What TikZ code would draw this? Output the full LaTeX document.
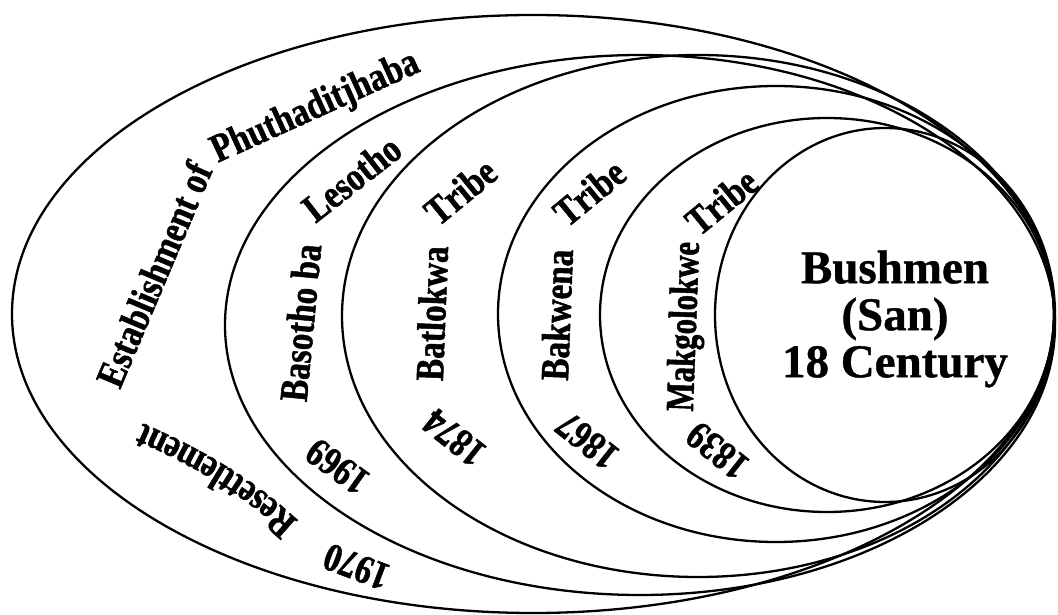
\documentclass[tikz,border=0pt]{standalone}
\usepackage{fontspec}
\setmainfont{Liberation Serif}
\newfontfamily\lblfamily{Liberation Serif}[FakeStretch=0.83,FakeBold=1.2]
\newfontfamily\lblnarrowfamily{Liberation Serif}[FakeStretch=0.77,FakeBold=1.2]
\newfontfamily\corefamily{Liberation Serif}[FakeBold=0.8]
\usetikzlibrary{decorations.text}
\newcommand\lblfont{\lblfamily\bfseries\fontsize{40}{40}\selectfont}
\newcommand\lblnarrowfont{\lblnarrowfamily\bfseries\fontsize{40}{40}\selectfont}
\tikzset{
  ring/.style={draw=black, line width=2.3pt},
  curvelabel/.style={decorate, decoration={text along path, text={|\lblfont|#1}, text align=center}},
  curvelabelN/.style={decorate, decoration={text along path, text={|\lblnarrowfont|#1}, text align=center}},
  curvelabelL/.style={decorate, decoration={text along path, text={|\lblfont|#1}, text align=left}},
  corelabel/.style={font=\corefamily\bfseries\fontsize{47}{47}\selectfont, align=center}
}
\begin{document}
\begin{tikzpicture}[x=1pt,y=1pt]
\useasboundingbox[fill=white] (0,0) rectangle (1058,614);
% rings
\draw[ring] (533,300) ellipse [x radius=521, y radius=299];
\draw[ring] (640,289) ellipse [x radius=415, y radius=270];
\draw[ring] (698,298) ellipse [x radius=356, y radius=261];
\draw[ring] (776,300) ellipse [x radius=278, y radius=228];
\draw[ring] (827,299) ellipse [x radius=227, y radius=197];
\draw[ring] (885,299) ellipse [x radius=170, y radius=187];
% ring 1
\path[curvelabelL={Establishment of Phuthaditjhaba}] (120,224) -- (208,432) .. controls (216,451) .. (240,461) -- (470,565);
\path[curvelabel={Resettlement}] (310,82) .. controls (262,130) and (205,165) .. (128,197);
\path[curvelabel={1970}] (404.5,43) -- (317.5,76);
% ring 2
\path[curvelabel={Basotho ba}] (305.6,201) -- (322.4,379);
\path[curvelabel={Lesotho}] (300,378) -- (420,472);
\path[curvelabel={1969}] (380,133) -- (310,183);
% ring 3
\path[curvelabel={Batlokwa}] (442.6,226) -- (448.4,374);
\path[curvelabel={Tribe}] (430,380) -- (508,444);
\path[curvelabel={1874}] (497,159) -- (428,214);
% ring 4
\path[curvelabel={Bakwena}] (567.6,225) -- (573.4,372);
\path[curvelabel={Tribe}] (559,379) -- (637,443);
\path[curvelabel={1867}] (630,156) -- (561,211);
% ring 5
\path[curvelabelN={Makgolokwe}] (692.5,190) -- (699.5,384);
\path[curvelabel={Tribe}] (692,371) -- (768,433);
\path[curvelabel={1839}] (760,146) -- (691,201);
% core
\node[corelabel] (core) at (895,295) {Bushmen\\(San)\\18 Century};
\end{tikzpicture}
\end{document}
